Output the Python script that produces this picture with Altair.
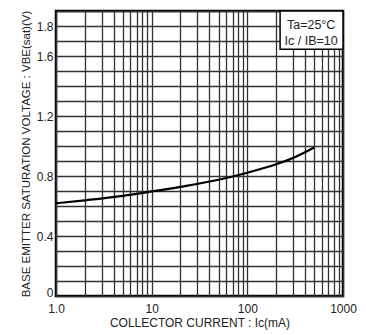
import altair as alt
import pandas as pd

# curve data
ic_ma = [1, 2, 5, 10, 20, 50, 100, 200, 300, 500]
vbe_sat = [0.618, 0.638, 0.668, 0.697, 0.728, 0.775, 0.822, 0.878, 0.92, 0.99]

# axis grid / tick values
x_grid = [m * d for d in [1, 10, 100] for m in range(1, 10)] + [1000]
x_labels = [1, 10, 100, 1000]
y_grid = [round(i * 0.1, 1) for i in range(0, 20)]
y_labels = [0, 0.4, 0.8, 1.2, 1.6, 1.8]

# annotation box
box_x = [220]
box_x2 = [1000]
box_y = [1.645]
box_y2 = [1.9]
note_lines = ["Ta=25°C", "Ic / IB=10"]
note_y = [1.81, 1.70]
note_x = [465, 465]

FONT = "Liberation Sans"

df = pd.DataFrame({"ic": ic_ma, "v": vbe_sat})
box = pd.DataFrame({"x": box_x, "x2": box_x2, "y": box_y, "y2": box_y2})
notes = pd.DataFrame({"t": note_lines, "y": note_y, "x": note_x})

xscale = alt.Scale(type="log", domain=[1, 1000], nice=False)
yscale = alt.Scale(domain=[0, 1.9], nice=False, zero=False)

x_label_expr = ("datum.value == 1 ? '1.0' : (datum.value == 10 || datum.value == 100 || "
                "datum.value == 1000) ? format(datum.value, 'd') : ''")
y_label_expr = ("indexof([0, 4, 8, 12, 16, 18], round(datum.value*10)) >= 0 ? "
                "(datum.value == 0 ? '0' : format(datum.value, '.1f')) : ''")

x_axis = alt.Axis(values=x_grid, labelExpr=x_label_expr, ticks=False,
                  title="COLLECTOR  CURRENT : Ic(mA)", labelFontSize=12,
                  titleFontSize=12, titleFontWeight="normal", labelPadding=7,
                  titlePadding=3, labelFlush=False, labelOverlap=False)
y_axis = alt.Axis(values=y_grid, labelExpr=y_label_expr, ticks=False,
                  title="BASE  EMITTER  SATURATION  VOLTAGE : VBE(sat)(V)",
                  labelFontSize=12, titleFontSize=11.5, titleFontWeight="normal",
                  labelPadding=3, titlePadding=5, labelOverlap=False,
                  labelBaseline=alt.condition("datum.value == 0", alt.value("alphabetic"),
                                              alt.value("middle")))

line = alt.Chart(df).mark_line(color="black", strokeWidth=2.2, interpolate="monotone").encode(
    x=alt.X("ic:Q", scale=xscale, axis=x_axis),
    y=alt.Y("v:Q", scale=yscale, axis=y_axis),
)

rect = alt.Chart(box).mark_rect(fill="white", stroke="black", strokeWidth=1.5).encode(
    x=alt.X("x:Q", scale=xscale, axis=x_axis), x2="x2:Q",
    y=alt.Y("y:Q", scale=yscale, axis=y_axis), y2="y2:Q",
)

text = alt.Chart(notes).mark_text(fontSize=12.5, font=FONT, color="#222", align="center",
                                  baseline="middle").encode(
    x=alt.X("x:Q", scale=xscale, axis=x_axis),
    y=alt.Y("y:Q", scale=yscale, axis=y_axis),
    text="t:N"
)

chart = alt.layer(line, rect, text).properties(
    width=287, height=285,
    autosize=alt.AutoSizeParams(type="none"),
    padding={"left": 48, "top": 3, "right": 15, "bottom": 40},
).configure_axis(
    grid=True, gridColor="#333", gridWidth=1.3, gridOpacity=1,
    domain=False, labelFont=FONT, titleFont=FONT, labelColor="#222", titleColor="#222",
).configure_view(
    stroke="black", strokeWidth=2.5
)

chart.save("out.html", embed_options={"renderer": "svg", "actions": False})
